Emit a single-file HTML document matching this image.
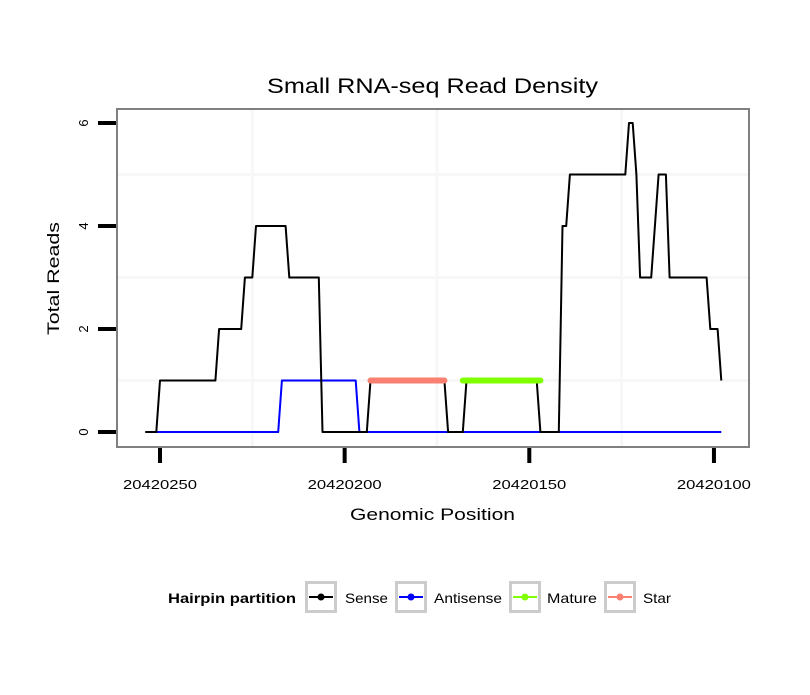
<!DOCTYPE html>
<html><head><meta charset="utf-8"><style>
body{margin:0;background:#fff;}
svg text{font-family:"Liberation Sans",sans-serif;}
</style></head><body>
<svg id="chart" width="810" height="690" xmlns="http://www.w3.org/2000/svg">
<rect width="810" height="690" fill="#fff"/>
<text x="267" y="93" font-size="21" textLength="331" lengthAdjust="spacingAndGlyphs">Small RNA-seq Read Density</text>
<g id="grid"></g>
<g id="series"></g>
<rect x="117" y="109" width="632" height="338" fill="none" stroke="#808080" stroke-width="2"/>
<g id="axes"></g>
<text x="350" y="520" font-size="17" textLength="165" lengthAdjust="spacingAndGlyphs">Genomic Position</text>
<text transform="translate(59,335) rotate(-90)" font-size="17" textLength="113" lengthAdjust="spacingAndGlyphs">Total Reads</text>
<g id="legend">
<text x="168" y="603" font-size="14" font-weight="bold" textLength="128" lengthAdjust="spacingAndGlyphs">Hairpin partition</text>
</g>
</svg>
<script>
const xTicks = [20420250, 20420200, 20420150, 20420100];
const yTicks = [0, 2, 4, 6];
const sensePos = [20420254,20420251,20420250,20420235,20420234,20420228,20420227,20420225,20420224,20420216,20420215,20420207,20420206,20420194,20420193,20420173,20420172,20420168,20420167,20420148,20420147,20420142,20420141,20420140,20420139,20420124,20420123,20420122,20420121,20420120,20420117,20420115,20420113,20420112,20420102,20420101,20420099,20420098];
const senseVal = [0,0,1,1,2,2,3,3,4,4,3,3,0,0,1,1,0,0,1,1,0,0,4,4,5,5,6,6,5,3,3,5,5,3,3,2,2,1];
const antiPos = [20420251,20420218,20420217,20420197,20420196,20420098];
const antiVal = [0,0,1,1,0,0];
const starPos = [20420193,20420173];
const starVal = [1,1];
const maturePos = [20420168,20420147];
const matureVal = [1,1];
const legendLabels = ["Sense","Antisense","Mature","Star"];
const legendColors = ["#000000","#0000ff","#7fff00","#fa8072"];

const NS="http://www.w3.org/2000/svg";
function X(p){return 160+(20420250-p)*3.693;}
function Y(v){return 432-v*51.5;}
function mk(tag,attrs,parent){const e=document.createElementNS(NS,tag);for(const k in attrs)e.setAttribute(k,attrs[k]);parent.appendChild(e);return e;}
const grid=document.getElementById('grid'),series=document.getElementById('series'),axes=document.getElementById('axes'),legend=document.getElementById('legend');

[1,3,5].forEach(v=>{const l=mk('line',{x1:117,x2:749,y1:Y(v),y2:Y(v),stroke:'#f7f7f7','stroke-width':3},grid);

});
[20420225,20420175,20420125].forEach(t=>{const l=mk('line',{x1:X(t),x2:X(t),y1:109,y2:447,stroke:'#f7f7f7','stroke-width':3},grid);

});

function path(ps,vs,color,w,name){const d=ps.map((p,i)=>(i?'L':'M')+X(p).toFixed(1)+','+Y(vs[i]).toFixed(1)).join('');
const e=mk('path',{d:d,fill:'none',stroke:color,'stroke-width':w,'stroke-linecap':w>3?'round':'butt','stroke-linejoin':'round'},series);

}
path(antiPos,antiVal,'#0000ff',2,'antisense-line');
path(sensePos,senseVal,'#000000',2,'sense-line');
path(starPos,starVal,'#fa8072',6,'star-line');
path(maturePos,matureVal,'#7fff00',6,'mature-line');

xTicks.forEach(t=>{const l=mk('line',{x1:X(t),x2:X(t),y1:448,y2:463,stroke:'#000','stroke-width':4},axes);


const tx=mk('text',{x:X(t)-37,y:489,'font-size':13,textLength:74,lengthAdjust:'spacingAndGlyphs'},axes);tx.textContent=t;

});
yTicks.forEach(v=>{const l=mk('line',{x1:98,x2:116,y1:Y(v),y2:Y(v),stroke:'#000','stroke-width':4},axes);


const tx=mk('text',{transform:`translate(88,${Y(v)}) rotate(-90)`,'font-size':13,'text-anchor':'middle'},axes);tx.textContent=v;

});

const boxX=[305,395,509,604],txtX=[345,434,547,643],txtW=[43,68,50,28];
legendLabels.forEach((lab,i)=>{const g=mk('g',{},legend);


mk('rect',{x:boxX[i]+1.5,y:582.5,width:29,height:29,fill:'#fff',stroke:'#cccccc','stroke-width':3},g);
mk('line',{x1:boxX[i]+4,x2:boxX[i]+28,y1:597,y2:597,stroke:legendColors[i],'stroke-width':2},g);
mk('circle',{cx:boxX[i]+16,cy:597,r:3.5,fill:legendColors[i]},g);
const t=mk('text',{x:txtX[i],y:603,'font-size':14,textLength:txtW[i],lengthAdjust:'spacingAndGlyphs'},g);t.textContent=lab;});
</script>
</body></html>
